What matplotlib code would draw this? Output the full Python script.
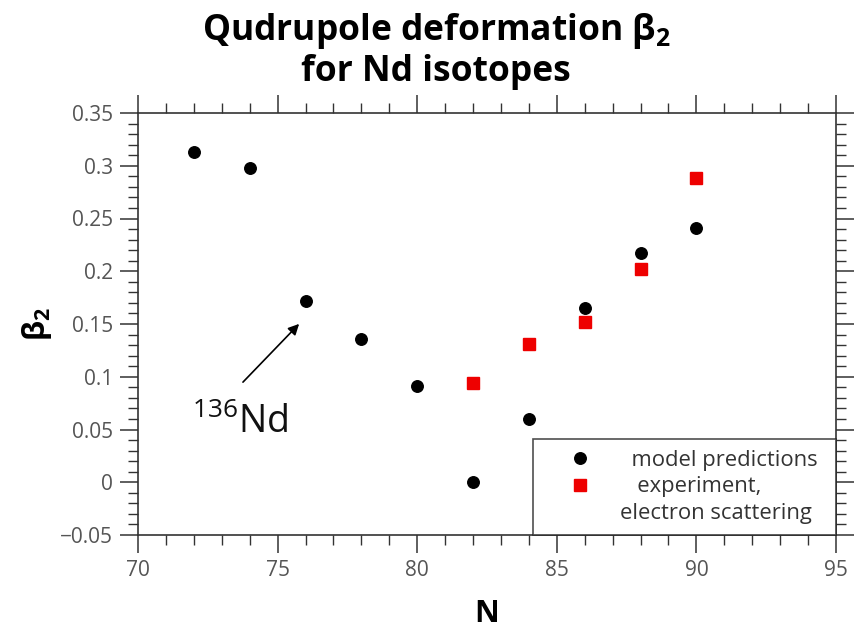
import matplotlib
matplotlib.use("Agg")
import matplotlib.pyplot as plt
from matplotlib.lines import Line2D
from matplotlib.ticker import MultipleLocator

plt.rcParams['font.family'] = ['Open Sans', 'DejaVu Sans']
plt.rcParams['mathtext.default'] = 'regular'

model_N = [72, 74, 76, 78, 80, 82, 84, 86, 88, 90]
model_beta = [0.313, 0.298, 0.172, 0.136, 0.091, 0.0, 0.060, 0.165, 0.217, 0.241]
exp_N = [82, 84, 86, 88, 90]
exp_beta = [0.094, 0.131, 0.152, 0.202, 0.288]
legend_labels = ['  model predictions', '   experiment,', 'electron scattering']

fig = plt.figure(figsize=(8.62, 6.28), dpi=100)
ax = fig.add_axes([138 / 862, 93 / 628, 698 / 862, 422 / 628])

h1, = ax.plot(model_N, model_beta, 'o', color='black', markersize=8.3, clip_on=False)
h2, = ax.plot(exp_N, exp_beta, 's', color='#ee0000', markersize=8)
h3 = Line2D([], [], linestyle='none', marker=None)

ax.set_xlim(70, 95)
ax.set_ylim(-0.05, 0.35)
ax.xaxis.set_major_locator(MultipleLocator(5))
ax.xaxis.set_minor_locator(MultipleLocator(1))
ax.yaxis.set_minor_locator(MultipleLocator(0.01))
ax.set_yticks([-0.05, 0, 0.05, 0.1, 0.15, 0.2, 0.25, 0.3, 0.35])
ax.set_yticklabels(['\u22120.05', '0', '0.05', '0.1', '0.15', '0.2', '0.25', '0.3', '0.35'])
ax.tick_params(which='both', direction='out', top=True, right=True, colors='#333333',
               labelcolor='#555555', labelsize=15)
ax.tick_params(which='major', length=13, width=1.1, pad=5)
ax.tick_params(which='minor', length=7, width=1.0)
for s in ax.spines.values():
    s.set_color('#333333')
    s.set_linewidth(1.2)

ax.set_xlabel('N', fontsize=22, fontweight='bold', labelpad=13)
ax.set_ylabel('\u03b2$_2$', fontsize=22, fontweight='bold', labelpad=4)

fig.text(0.506, 0.920, 'Qudrupole deformation \u03b2$_2$\nfor Nd isotopes', ha='center', va='center',
         fontsize=25.5, fontweight='bold', linespacing=1.12)

ax.annotate('', xy=(75.84, 0.152), xytext=(73.69, 0.093),
            arrowprops=dict(arrowstyle='-|>', color='black', lw=1.2, mutation_scale=16))
ax.text(71.95, 0.047, '$^{136}$Nd', fontsize=27, ha='left', va='baseline', color='#111111')

x0 = (533 - 138) / 698
leg = ax.legend([h1, h2, h3], legend_labels, loc='lower left',
                bbox_to_anchor=(x0, 0.0, 1 - x0, 0.2), mode='expand',
                borderaxespad=0, frameon=True,
                fancybox=False, fontsize=15.8, handletextpad=0.18, borderpad=0.5,
                markerfirst=True, labelspacing=0.26, handlelength=3.3)
leg.get_frame().set_edgecolor('#222222')
leg.get_frame().set_linewidth(1.2)
for t in leg.get_texts():
    t.set_color('#333333')

fig.savefig('out.png', dpi=100)
